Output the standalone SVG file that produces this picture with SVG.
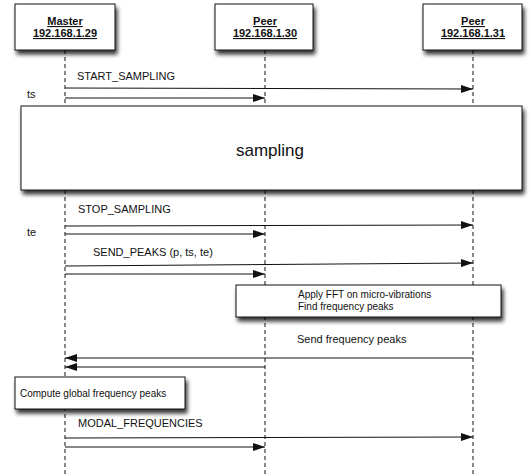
<svg xmlns="http://www.w3.org/2000/svg" width="532" height="476" viewBox="0 0 532 476">
<style>
text{font-family:"Liberation Sans",Arial,sans-serif;fill:#111}
.box{fill:#fff;stroke:#111;stroke-width:1;filter:url(#sh)}
.life{stroke:#111;stroke-width:1;stroke-dasharray:4 3;fill:none}
.msg{stroke:#111;stroke-width:1;fill:none}
.hd{font-size:11px;font-weight:bold;text-decoration:underline;text-anchor:middle}
.lbl{font-size:11px}
.note{font-size:10px}
</style>
<defs>
<filter id="sh" x="-10%" y="-20%" width="120%" height="160%">
<feGaussianBlur in="SourceAlpha" stdDeviation="2"/>
<feOffset dx="2" dy="4" result="b"/>
<feComponentTransfer><feFuncA type="linear" slope="0.8"/></feComponentTransfer>
<feMerge><feMergeNode/><feMergeNode in="SourceGraphic"/></feMerge>
</filter>
<marker id="ah" markerWidth="12" markerHeight="8" refX="12" refY="4" orient="auto" markerUnits="userSpaceOnUse">
<path d="M0,0 L12,4 L0,8 Z" fill="#111"/>
</marker>
</defs>
<g id="lifelines">
<line class="life" x1="65" y1="50" x2="65" y2="476"/>
<line class="life" x1="265" y1="50" x2="265" y2="476"/>
<line class="life" x1="473" y1="50" x2="473" y2="476"/>
</g>
<g id="master"><rect class="box" x="15" y="4" width="100" height="46"/><text class="hd" x="65" y="25">Master</text><text class="hd" x="65" y="37">192.168.1.29</text></g>
<g id="peer30"><rect class="box" x="215" y="4" width="98" height="46"/><text class="hd" x="265" y="25">Peer</text><text class="hd" x="265" y="37">192.168.1.30</text></g>
<g id="peer31"><rect class="box" x="423" y="4" width="99" height="46"/><text class="hd" x="473" y="25">Peer</text><text class="hd" x="473" y="37">192.168.1.31</text></g>
<g id="sampling"><rect class="box" x="21" y="106" width="501" height="84"/><text x="270" y="156" font-size="17" text-anchor="middle">sampling</text></g>
<g id="fft"><rect class="box" x="236" y="285" width="265" height="32"/><text class="note" x="298" y="298">Apply FFT on micro-vibrations</text><text class="note" x="298" y="310">Find frequency peaks</text></g>
<g id="compute"><rect class="box" x="15" y="377" width="170" height="32"/><text class="note" x="20" y="397">Compute global frequency peaks</text></g>
<g id="labels">
<text class="lbl" x="77" y="80">START_SAMPLING</text>
<text class="lbl" x="27" y="98">ts</text>
<text class="lbl" x="78" y="213">STOP_SAMPLING</text>
<text class="lbl" x="27" y="236">te</text>
<text class="lbl" x="93" y="256">SEND_PEAKS (p, ts, te)</text>
<text class="lbl" x="297" y="343">Send frequency peaks</text>
<text class="lbl" x="78" y="427">MODAL_FREQUENCIES</text>
</g>
<g id="connectors">
<line class="msg" x1="65" y1="88" x2="473" y2="89" marker-end="url(#ah)"/>
<line class="msg" x1="65" y1="98" x2="265" y2="98" marker-end="url(#ah)"/>
<line class="msg" x1="65" y1="226" x2="473" y2="225" marker-end="url(#ah)"/>
<line class="msg" x1="65" y1="234" x2="265" y2="234" marker-end="url(#ah)"/>
<line class="msg" x1="65" y1="266" x2="473" y2="263" marker-end="url(#ah)"/>
<line class="msg" x1="65" y1="274" x2="265" y2="274" marker-end="url(#ah)"/>
<line class="msg" x1="473" y1="358" x2="65" y2="358" marker-end="url(#ah)"/>
<line class="msg" x1="265" y1="367" x2="65" y2="367" marker-end="url(#ah)"/>
<line class="msg" x1="65" y1="438" x2="473" y2="437" marker-end="url(#ah)"/>
<line class="msg" x1="65" y1="447" x2="265" y2="447" marker-end="url(#ah)"/>
</g>
</svg>
